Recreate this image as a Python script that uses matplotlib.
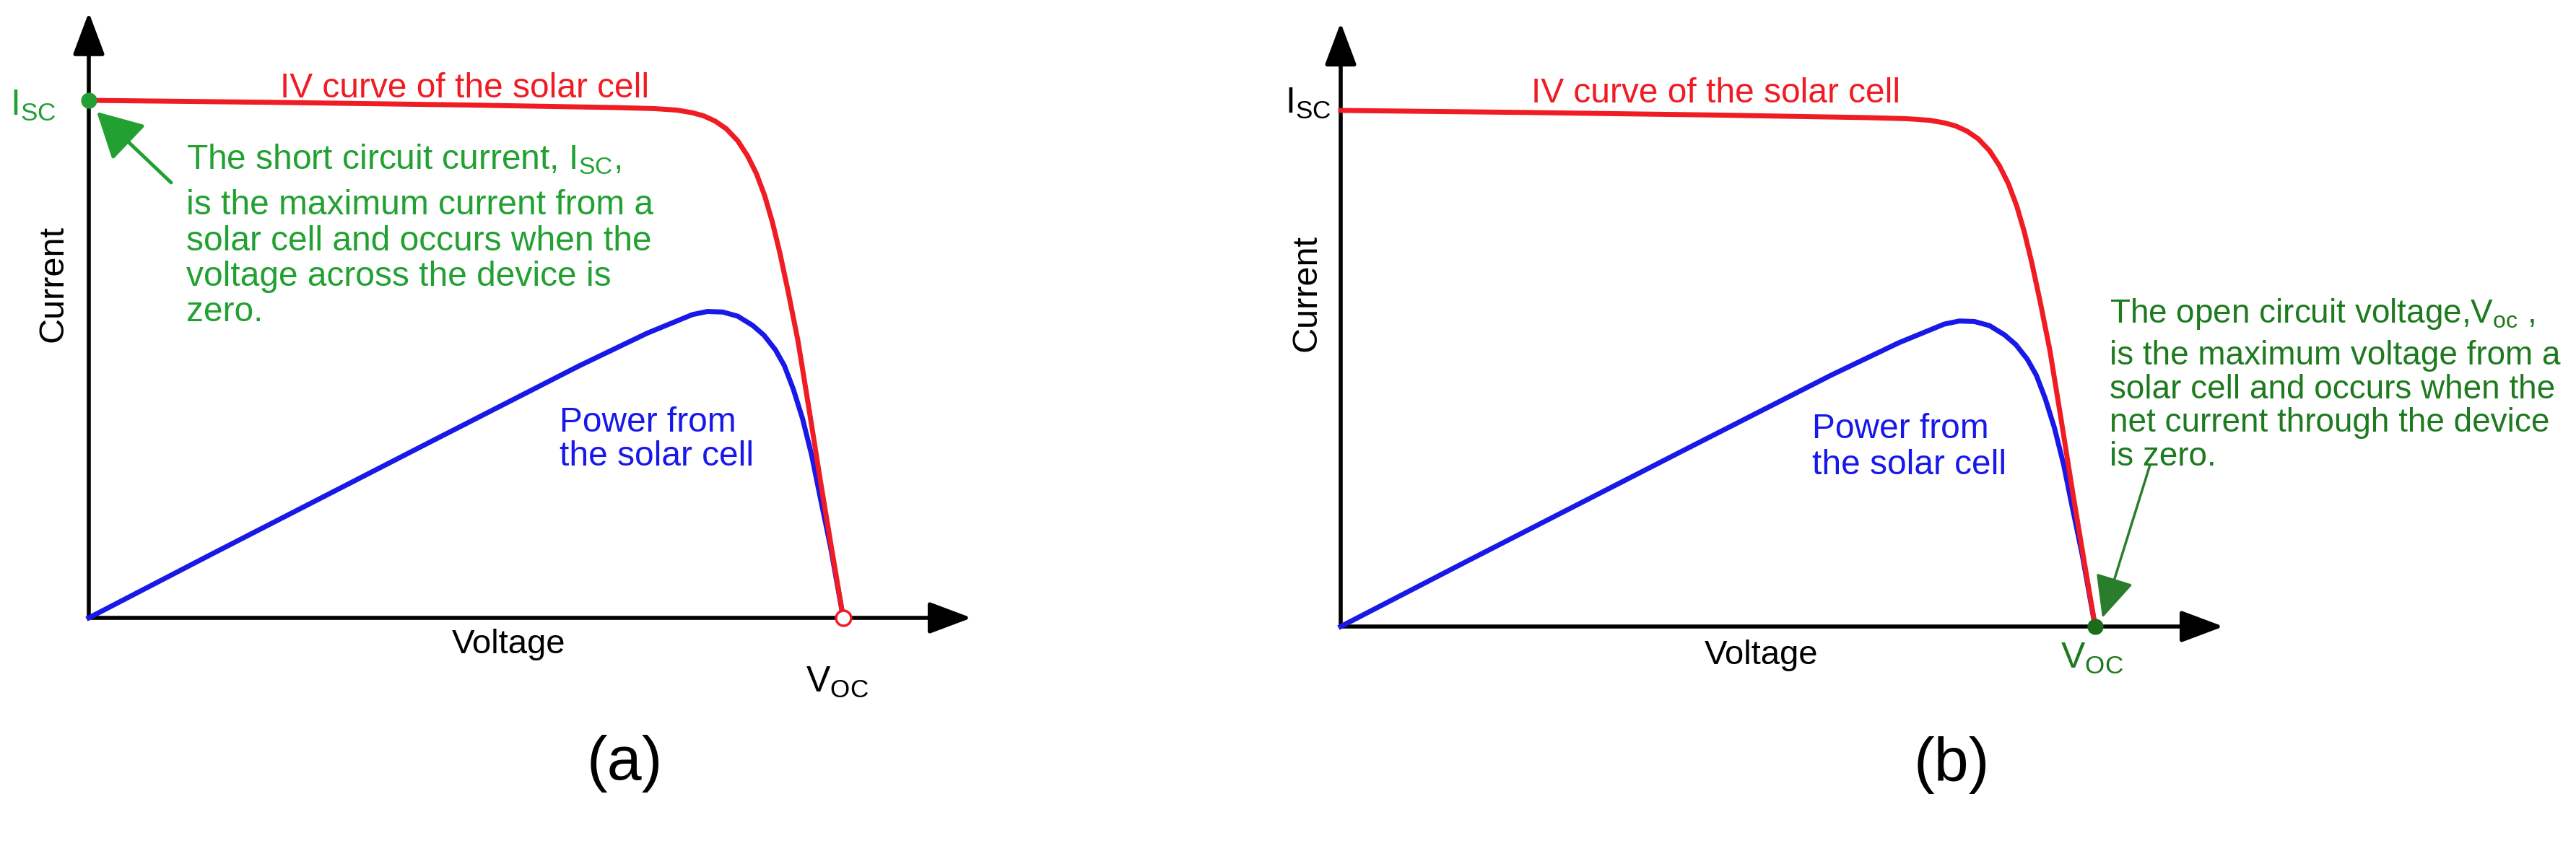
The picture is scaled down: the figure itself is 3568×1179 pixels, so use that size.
import matplotlib.pyplot as plt
from matplotlib.patches import FancyArrowPatch

plt.rcParams['font.family'] = ['Liberation Sans', 'DejaVu Sans']
plt.rcParams['mathtext.fontset'] = 'custom'
plt.rcParams['mathtext.rm'] = 'Liberation Sans'
plt.rcParams['mathtext.it'] = 'Liberation Sans:italic'

W, H = 3568, 1179

# IV curve, normalised (Voc = 1, Isc = 1)
v_iv = [0.0, 0.25, 0.50, 0.70, 0.75, 0.78, 0.80, 0.815, 0.83, 0.845, 0.86, 0.873,
        0.885, 0.896, 0.906, 0.916, 0.927, 0.94, 0.955, 0.97, 0.985, 1.0]
i_iv = [1.0, 0.996, 0.991, 0.986, 0.984, 0.981, 0.976, 0.970, 0.960, 0.945, 0.922, 0.893,
        0.858, 0.815, 0.765, 0.705, 0.630, 0.535, 0.400, 0.262, 0.130, 0.0]

# power curve on the same scale
v_pw = [0.0, 0.16, 0.45, 0.65, 0.70, 0.74, 0.775, 0.80, 0.82, 0.84, 0.86, 0.88,
        0.895, 0.91, 0.922, 0.934, 0.946, 0.958, 0.970, 0.983, 1.0]
p_pw = [0.0, 0.121, 0.338, 0.487, 0.522, 0.550, 0.571, 0.586, 0.592, 0.591, 0.583, 0.565,
        0.546, 0.518, 0.487, 0.441, 0.385, 0.315, 0.229, 0.138, 0.0]

axis_end = 1.17

red = '#f01c24'
blue = '#1818e8'
green = '#22a032'
dgreen = '#1e7a1e'

fig = plt.figure(figsize=(W / 100, H / 100), dpi=100)


def fx(x):
    return x / W


def fy(y):
    return 1 - y / H


def panel(left, right, x0, y0, xv, yi):
    ax = fig.add_axes([left / W, 0, (right - left) / W, 1])
    sx = xv - x0
    sy = y0 - yi
    ax.set_xlim((left - x0) / sx, (right - x0) / sx)
    ax.set_ylim((y0 - H) / sy, y0 / sy)
    ax.axis('off')
    ap = dict(arrowstyle='-|>,head_length=1.2,head_width=0.45', color='k', lw=4,
              shrinkA=0, shrinkB=0, mutation_scale=30)
    ax.annotate('', xy=(axis_end, 0), xytext=(0, 0), arrowprops=ap)
    ax.annotate('', xy=(0, axis_end), xytext=(0, 0), arrowprops=ap)
    ax.plot(v_pw, p_pw, color=blue, lw=5, solid_joinstyle='round', zorder=3)
    ax.plot(v_iv, i_iv, color=red, lw=5, solid_joinstyle='round', zorder=4)
    return ax


# ---- panel (a)
ax1 = panel(0, 1750, 123, 856, 1168, 139)
ax1.plot([0], [1], 'o', color=green, ms=15, zorder=5)
ax1.plot([1], [0], 'o', mfc='white', mec=red, mew=2.5, ms=15, zorder=5)

fig.text(fx(388), fy(135), 'IV curve of the solar cell', color=red, fontsize=34.5, va='baseline')
lines_a = [r'The short circuit current, $\mathrm{I_{SC}}$,',
           'is the maximum current from a',
           'solar cell and occurs when the',
           'voltage across the device is',
           'zero.']
for s, yb in zip(lines_a, [234, 297, 347, 396, 445]):
    fig.text(fx(258), fy(yb), s, color=green, fontsize=34.5, va='baseline')
fig.text(fx(775), fy(598), 'Power from', color=blue, fontsize=34.5, va='baseline')
fig.text(fx(775), fy(645), 'the solar cell', color=blue, fontsize=34.5, va='baseline')
fig.text(fx(74), fy(393), 'Current', fontsize=35, rotation=90, ha='center', va='center')
fig.text(fx(705), fy(893), 'Voltage', fontsize=34, ha='center', va='center')
fig.text(fx(1160), fy(945), r'$\mathrm{V_{OC}}$', fontsize=36, ha='center', va='center')
fig.text(fx(46), fy(146), r'$\mathrm{I_{SC}}$', color=green, fontsize=36, ha='center', va='center')
fig.text(fx(865), fy(1058), '(a)', fontsize=62, ha='center', va='center')
fig.add_artist(FancyArrowPatch(
    (fx(237), fy(253)), (fx(134), fy(155)), transform=fig.transFigure,
    arrowstyle='-|>,head_length=1.3,head_width=0.7', mutation_scale=30,
    color=green, lw=3.5, shrinkA=0, shrinkB=0))

# ---- panel (b)
ax2 = panel(1750, W, 1857, 868, 2902, 153)
ax2.plot([1], [0], 'o', color='#1b6b1b', ms=15, zorder=5)

fig.text(fx(2121), fy(142), 'IV curve of the solar cell', color=red, fontsize=34.5, va='baseline')
lines_b = [r'The open circuit voltage,$\mathrm{V_{oc}}$ ,',
           'is the maximum voltage from a',
           'solar cell and occurs when the',
           'net current through the device',
           'is zero.']
for s, yb in zip(lines_b, [447, 505, 552, 598, 645]):
    fig.text(fx(2922), fy(yb), s, color=dgreen, fontsize=33, va='baseline')
fig.text(fx(2510), fy(607), 'Power from', color=blue, fontsize=34.5, va='baseline')
fig.text(fx(2510), fy(657), 'the solar cell', color=blue, fontsize=34.5, va='baseline')
fig.text(fx(1810), fy(406), 'Current', fontsize=35, rotation=90, ha='center', va='center')
fig.text(fx(2440), fy(908), 'Voltage', fontsize=34, ha='center', va='center')
fig.text(fx(2898), fy(912), r'$\mathrm{V_{OC}}$', color=dgreen, fontsize=36, ha='center', va='center')
fig.text(fx(1812), fy(143), r'$\mathrm{I_{SC}}$', fontsize=36, ha='center', va='center')
fig.text(fx(2703), fy(1060), '(b)', fontsize=62, ha='center', va='center')
fig.add_artist(FancyArrowPatch(
    (fx(2978), fy(644)), (fx(2912), fy(856)), transform=fig.transFigure,
    arrowstyle='-|>,head_length=1.3,head_width=0.6', mutation_scale=28,
    color='#2a7d2a', lw=2.5, shrinkA=0, shrinkB=0))

fig.savefig('out.png', dpi=100)
